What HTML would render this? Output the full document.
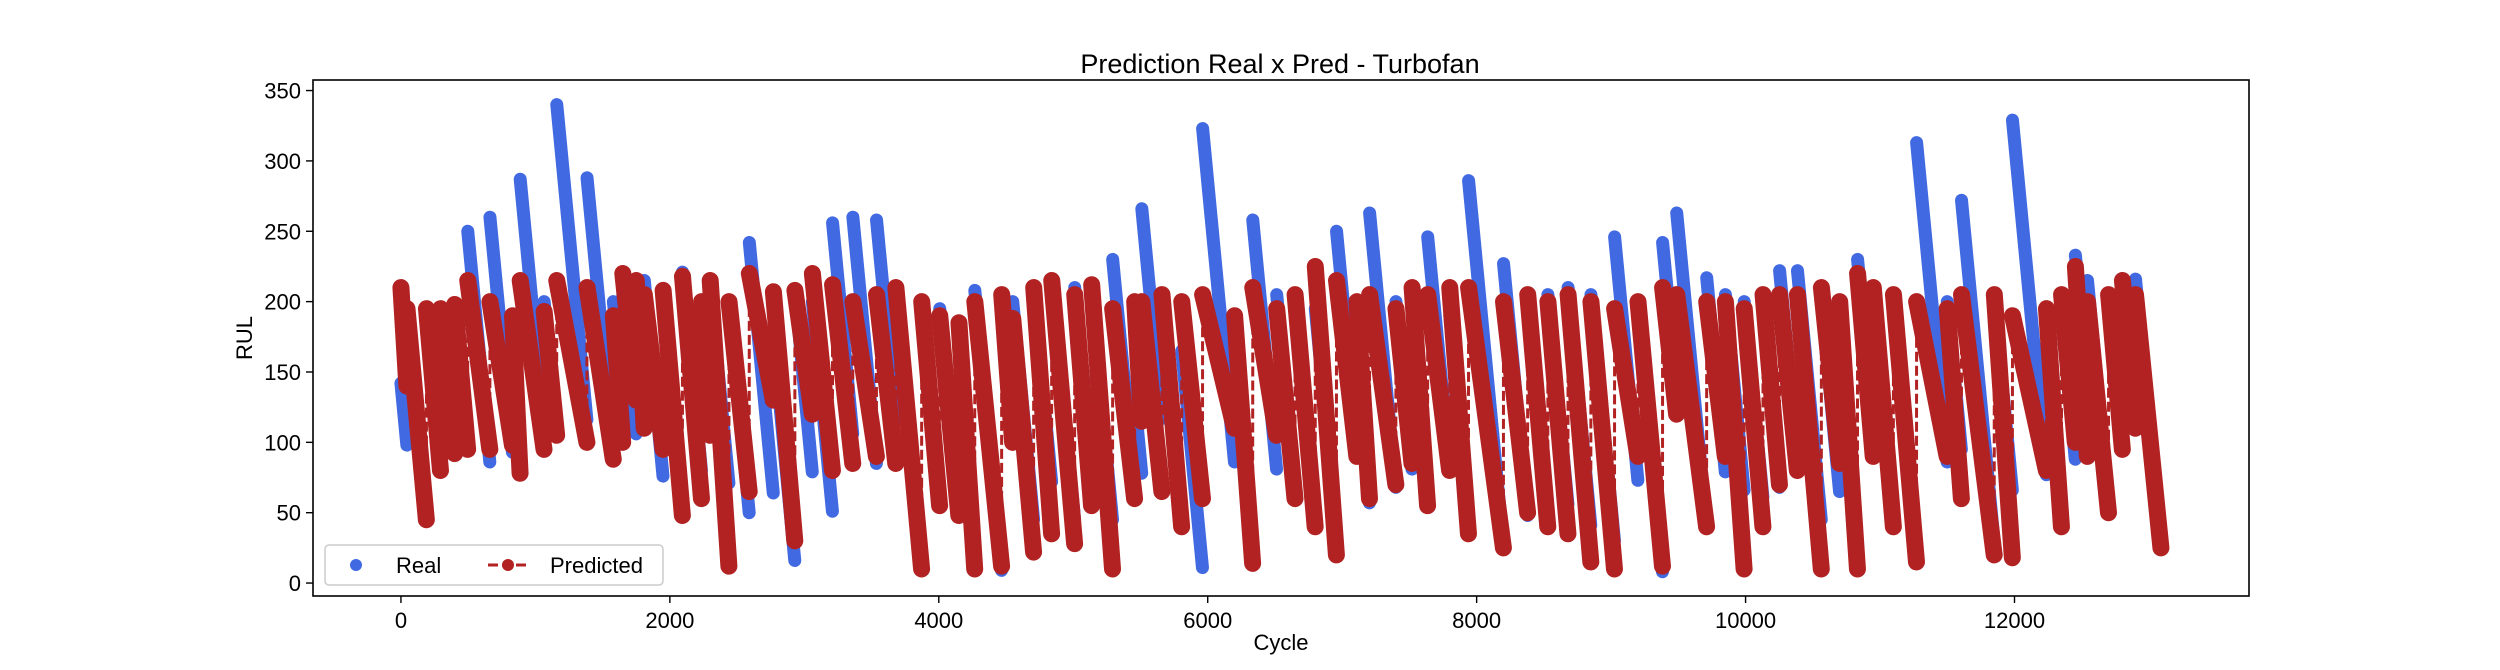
<!DOCTYPE html>
<html><head><meta charset="utf-8">
<style>
html,body{margin:0;padding:0;background:#fff;}
svg{display:block;font-family:"Liberation Sans","DejaVu Sans",sans-serif;}
</style></head>
<body>
<svg id="chart" width="2500" height="670" viewBox="0 0 2500 670" xmlns="http://www.w3.org/2000/svg">
  <rect x="0" y="0" width="2500" height="670" fill="#fff"/>
  <text x="1280" y="73" font-size="27" text-anchor="middle" fill="#000">Prediction Real x Pred - Turbofan</text>
  <defs><clipPath id="plotclip"><rect x="313" y="80" width="1936" height="516"/></clipPath></defs>
  <g id="xticks"></g>
  <g id="yticks"></g>
  <g id="series" clip-path="url(#plotclip)"></g>
  <rect x="313" y="80" width="1936" height="516" fill="none" stroke="#000" stroke-width="1.6"/>
  <text x="1281" y="650" font-size="22" text-anchor="middle">Cycle</text>
  <text x="0" y="0" font-size="22" text-anchor="middle" transform="translate(252,338) rotate(-90)">RUL</text>
  <g>
    <rect x="325" y="545" width="338" height="40" rx="4" fill="#fff" fill-opacity="0.8" stroke="#ccc" stroke-width="1.5"/>
    <g>
      <circle cx="356" cy="565" r="6" fill="#4169e1"/>
      <text x="396" y="573" font-size="22">Real</text>
    </g>
    <g>
      <line x1="488" y1="565" x2="528" y2="565" stroke="#b22222" stroke-width="3" stroke-dasharray="10,4"/>
      <circle cx="508" cy="565" r="6" fill="#b22222"/>
      <text x="550" y="573" font-size="22">Predicted</text>
    </g>
  </g>
</svg>
<script>
// Data arrays (per engine): start cycle, real RUL at start, predicted start & end values
const engineStarts = [0,45,190,295,400,497,662,830,887,1065,1159,1384,1580,1650,1750,1810,1950,2094,2236,2300,2440,2591,2770,2930,3060,3210,3361,3537,3681,3873,4007,4150,4268,4468,4550,4706,4840,5011,5137,5293,5457,5510,5660,5807,5962,6200,6335,6513,6650,6800,6958,7110,7204,7400,7520,7636,7800,7940,8200,8380,8530,8680,8850,9026,9200,9383,9488,9711,9850,9990,10130,10253,10386,10564,10700,10833,10950,11100,11272,11500,11606,11850,11985,12238,12350,12453,12543,12700,12803,12900];
const lastCycle = 13090;
const realStarts = [142,195,190,195,195,250,260,150,287,200,340,288,200,205,170,215,200,221,200,210,200,242,175,208,200,256,260,258,200,200,195,130,208,190,200,205,215,210,200,230,130,266,190,165,323,160,258,205,200,195,250,150,263,200,180,246,190,286,227,200,205,210,205,246,190,242,263,217,205,200,190,222,222,200,150,230,200,200,313,200,272,200,329,170,190,233,215,200,213,216];
const predStarts = [210,195,195,195,198,215,200,190,215,193,215,210,190,220,215,205,208,218,200,215,200,220,207,208,220,212,200,205,210,200,190,185,200,205,188,210,215,205,212,195,200,200,205,200,205,190,210,195,205,225,215,200,205,195,210,205,210,210,200,205,200,205,200,195,200,210,205,200,200,195,205,205,205,210,200,220,210,205,200,195,205,205,190,195,205,225,200,205,215,205];
const predEnds = [140,45,80,92,95,95,98,78,95,105,100,88,100,130,110,95,48,60,105,12,65,130,30,120,80,85,90,85,10,55,48,10,12,100,22,35,28,55,10,60,115,65,40,60,110,14,105,60,40,20,90,60,70,85,55,80,35,25,50,40,35,15,10,90,12,120,40,90,10,40,70,80,10,85,10,90,40,15,90,60,20,18,80,40,100,90,50,95,110,25];
const xTicks = [0,2000,4000,6000,8000,10000,12000];
const yTicks = [0,50,100,150,200,250,300,350];

const X0=-654, X1=13744, Y0=-9.2, Y1=357.5;
const PL=313, PR=2249, PT=80, PB=596;
function xs(v){return PL+(v-X0)/(X1-X0)*(PR-PL);}
function ys(v){return PB-(v-Y0)/(Y1-Y0)*(PB-PT);}
const NS="http://www.w3.org/2000/svg";
function mk(tag,attrs,parent){const e=document.createElementNS(NS,tag);for(const k in attrs)e.setAttribute(k,attrs[k]);parent.appendChild(e);return e;}

const gx=document.getElementById('xticks');
xTicks.forEach(t=>{
  const l=mk('line',{x1:xs(t),x2:xs(t),y1:PB,y2:PB+7,stroke:'#000','stroke-width':1.4},gx);
  
  
  const tx=mk('text',{x:xs(t),y:PB+32,'font-size':22,'text-anchor':'middle'},gx);
  tx.textContent=t;
  
  
});
const gy=document.getElementById('yticks');
yTicks.forEach(t=>{
  const l=mk('line',{x1:PL-7,x2:PL,y1:ys(t),y2:ys(t),stroke:'#000','stroke-width':1.4},gy);
  
  
  const tx=mk('text',{x:PL-12,y:ys(t)+8,'font-size':22,'text-anchor':'end'},gy);
  tx.textContent=t;
  
  
});

const gs=document.getElementById('series');
const n=engineStarts.length;
for(let i=0;i<n;i++){
  const c0=engineStarts[i], c1=(i<n-1?engineStarts[i+1]:lastCycle)-1;
  const r0=realStarts[i], r1=r0-(c1-c0);
  const l=mk('line',{x1:xs(c0),y1:ys(r0),x2:xs(c1),y2:ys(r1),stroke:'#4169e1','stroke-width':13,'stroke-linecap':'round'},gs);
  
  
}
let d='';
for(let i=0;i<n;i++){
  const c0=engineStarts[i], c1=(i<n-1?engineStarts[i+1]:lastCycle)-1;
  d+=(i===0?'M':'L')+xs(c0).toFixed(1)+','+ys(predStarts[i]).toFixed(1)+' L'+xs(c1).toFixed(1)+','+ys(predEnds[i]).toFixed(1)+' ';
}
const pl=mk('path',{d:d,fill:'none',stroke:'#b22222','stroke-width':3,'stroke-dasharray':'10,4'},gs);


for(let i=0;i<n;i++){
  const c0=engineStarts[i], c1=(i<n-1?engineStarts[i+1]:lastCycle)-1;
  const l=mk('line',{x1:xs(c0),y1:ys(predStarts[i]),x2:xs(c1),y2:ys(predEnds[i]),stroke:'#b22222','stroke-width':17,'stroke-linecap':'round'},gs);
  
  
}
</script>
</body></html>
